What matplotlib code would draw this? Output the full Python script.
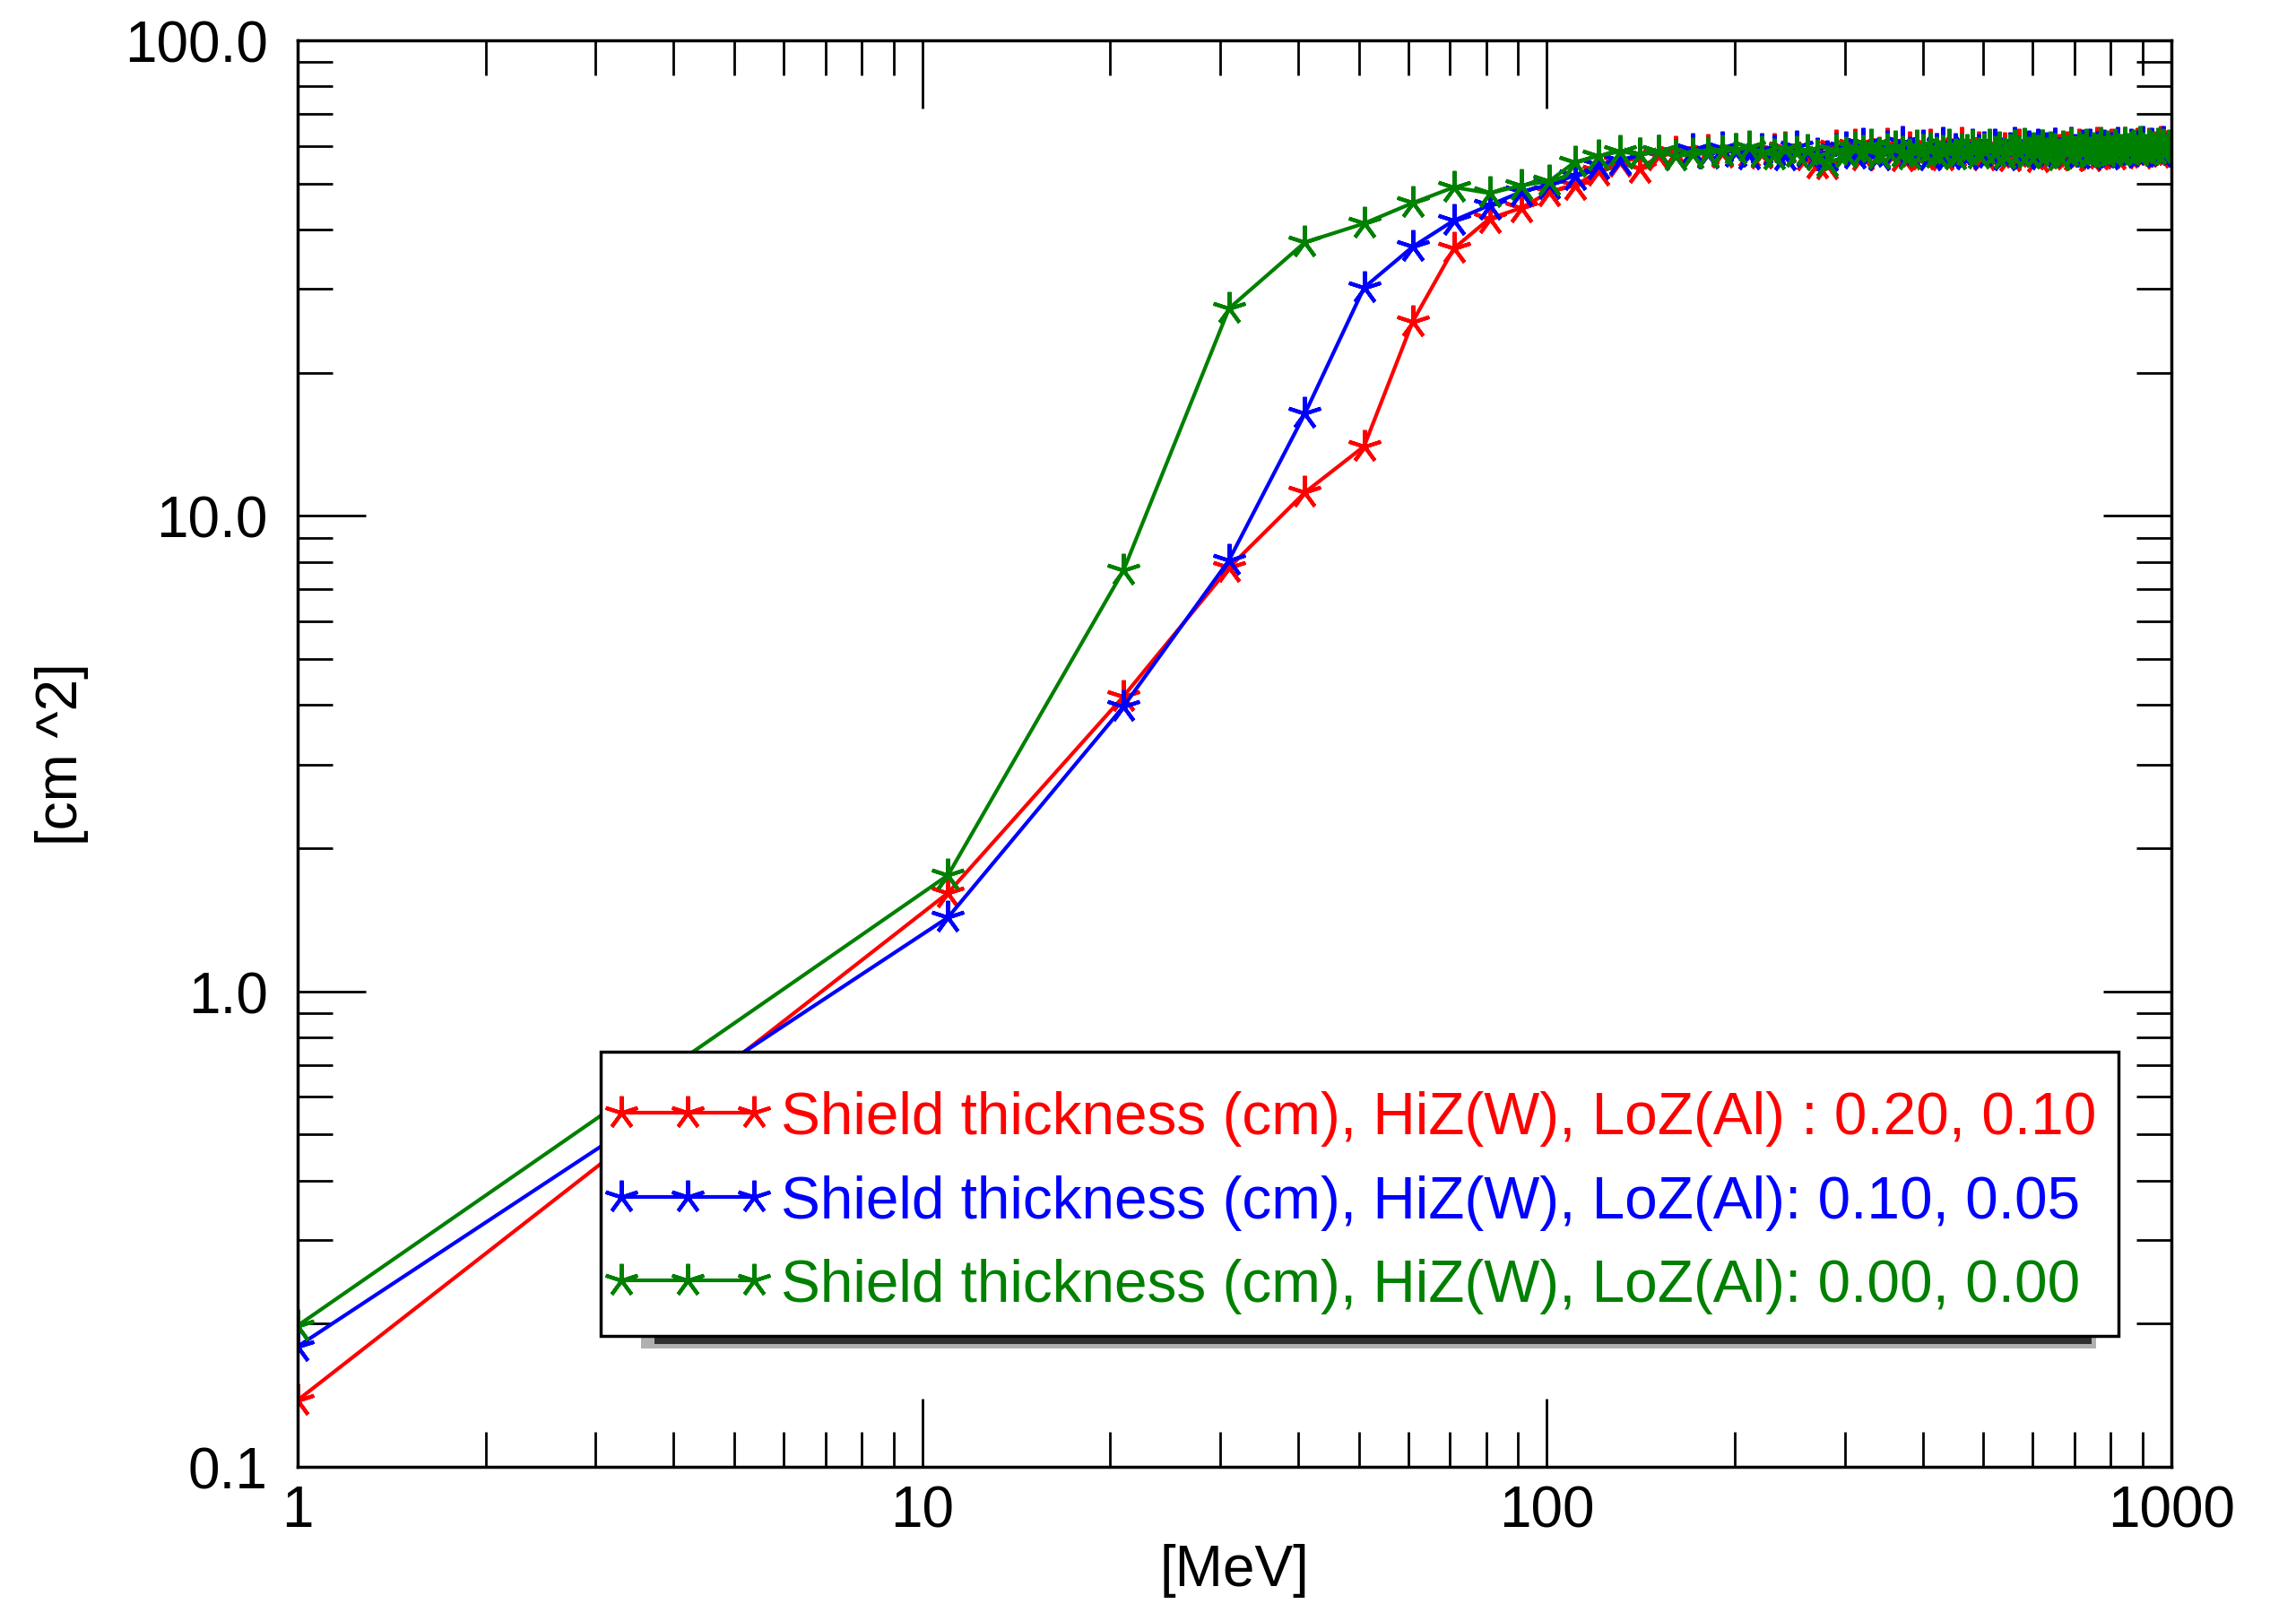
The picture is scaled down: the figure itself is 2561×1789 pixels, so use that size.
import matplotlib
matplotlib.use("Agg")
import matplotlib.pyplot as plt
from matplotlib.ticker import FixedLocator, FixedFormatter, LogLocator, NullFormatter
from matplotlib.patches import Rectangle

plt.rcParams['font.family'] = ['Liberation Sans', 'DejaVu Sans']

# ---------------- data ----------------
energy_mev = list(range(1, 1000, 10))  # 1, 11, 21, ... 991 MeV

area_w020_al010 = [
    0.138, 1.61, 4.17, 7.78, 11.2, 14.0, 25.6, 36.5, 42.2, 44.4,
    48.0, 49.5, 53.0, 55.5, 53.8, 57.0, 58.0, 57.5, 58.5, 57.8,
    59.0, 58.2, 57.6, 58.8, 59.5, 58.0, 57.2, 55.0, 54.6, 59.8,
    58.4, 60.2, 57.1, 59.0, 57.8, 60.5, 58.1, 56.9, 59.3, 58.6,
    57.4, 60.1, 58.8, 57.2, 59.6, 58.0, 60.7, 57.6, 58.9, 59.4,
    57.0, 58.3, 60.0, 57.9, 59.1, 56.8, 58.7, 60.3, 57.5, 59.2,
    58.1, 56.6, 59.8, 58.4, 57.3, 60.4, 58.6, 57.8, 59.5, 58.0,
    57.1, 60.2, 58.5, 59.3, 56.9, 58.8, 60.6, 57.7, 59.0, 58.2,
    60.1, 57.4, 59.6, 58.3, 60.8, 57.9, 59.2, 58.6, 60.4, 57.6,
    59.9, 58.1, 60.5, 58.7, 59.4, 57.8, 60.9, 58.5, 59.7, 58.9,
]

area_w010_al005 = [
    0.179, 1.43, 3.97, 8.07, 16.4, 30.2, 36.8, 41.8, 45.0, 48.0,
    49.7, 52.0, 54.7, 55.9, 57.5, 58.3, 57.2, 58.8, 57.6, 59.4,
    58.1, 57.3, 59.0, 58.4, 57.0, 59.6, 58.2, 57.7, 56.8, 58.9,
    59.3, 57.6, 60.4, 58.0, 57.2, 59.7, 58.5, 60.9, 57.8, 58.6,
    59.8, 57.1, 58.9, 60.6, 57.5, 59.0, 58.2, 57.4, 60.3, 58.7,
    59.5, 57.9, 60.1, 58.3, 57.0, 59.2, 60.8, 58.1, 57.6, 59.6,
    58.8, 60.2, 57.3, 59.1, 58.4, 60.5, 57.7, 59.4, 58.0, 60.7,
    58.6, 57.5, 59.9, 58.2, 60.3, 57.9, 59.3, 58.7, 60.0, 57.4,
    59.1, 58.5, 60.6, 57.8, 59.5, 58.3, 60.2, 58.8, 59.7, 58.0,
    60.9, 58.4, 59.2, 60.4, 58.6, 59.8, 58.2, 61.0, 59.0, 59.6,
]

area_w000_al000 = [
    0.198, 1.755, 7.67, 27.3, 37.6, 41.2, 45.5, 49.1, 47.7, 49.5,
    50.6, 55.5, 57.1, 58.4, 57.5, 58.4, 57.1, 57.5, 57.9, 58.4,
    58.9, 59.6, 58.2, 57.4, 59.1, 58.0, 58.7, 57.0, 55.3, 58.5,
    57.8, 59.5, 58.3, 60.1, 57.6, 58.9, 59.7, 58.1, 57.4, 60.0,
    58.6, 59.2, 57.9, 58.4, 60.2, 57.3, 59.0, 58.5, 59.8, 57.7,
    58.8, 60.3, 58.0, 59.4, 57.5, 58.7, 59.9, 58.2, 60.5, 57.8,
    59.1, 58.4, 60.0, 57.6, 59.3, 58.9, 57.2, 59.6, 58.3, 60.4,
    58.0, 59.5, 58.7, 60.1, 57.9, 59.2, 58.6, 60.6, 58.1, 59.7,
    58.4, 60.2, 59.0, 58.5, 60.7, 58.8, 59.4, 60.0, 58.3, 60.9,
    59.1, 58.6, 60.3, 59.5, 58.9, 60.5, 59.2, 60.1, 58.7, 59.8,
]

series_labels = [
    "Shield thickness (cm), HiZ(W), LoZ(Al) : 0.20, 0.10",
    "Shield thickness (cm), HiZ(W), LoZ(Al): 0.10, 0.05",
    "Shield thickness (cm), HiZ(W), LoZ(Al): 0.00, 0.00",
]
series_colors = ["#ff0000", "#0000ff", "#008000"]

x_ticks = [1, 10, 100, 1000]
x_tick_labels = ["1", "10", "100", "1000"]
y_ticks = [0.1, 1.0, 10.0, 100.0]
y_tick_labels = ["0.1", "1.0", "10.0", "100.0"]

# ---------------- figure ----------------
DPI = 100
fig = plt.figure(figsize=(25.61, 17.90), dpi=DPI)
ax = fig.add_axes([0.1296, 0.0855, 0.8161, 0.8888])

star = (5, 2, 0)
for ys, lab, col in zip([area_w020_al010, area_w010_al005, area_w000_al000],
                        series_labels, series_colors):
    ax.plot(energy_mev, ys, color=col, lw=3.0, marker=star, ms=27, mew=3.0,
            label=lab)

ax.set_xscale('log')
ax.set_yscale('log')
ax.set_xlim(1, 1000)
ax.set_ylim(0.1, 100)

ax.xaxis.set_major_locator(FixedLocator(x_ticks))
ax.xaxis.set_major_formatter(FixedFormatter(x_tick_labels))
ax.yaxis.set_major_locator(FixedLocator(y_ticks))
ax.yaxis.set_major_formatter(FixedFormatter(y_tick_labels))
ax.xaxis.set_minor_locator(LogLocator(base=10, subs=range(2, 10)))
ax.yaxis.set_minor_locator(LogLocator(base=10, subs=range(2, 10)))
ax.xaxis.set_minor_formatter(NullFormatter())
ax.yaxis.set_minor_formatter(NullFormatter())

ax.tick_params(which='both', direction='in', top=True, right=True, width=2.0,
               color='black', labelsize=46)
ax.tick_params(which='major', length=55)
ax.tick_params(which='minor', length=28)
ax.tick_params(axis='x', which='major', pad=14)
ax.tick_params(axis='y', which='major', pad=24)
for sp in ax.spines.values():
    sp.set_linewidth(2.5)

ax.set_xlabel("[MeV]", fontsize=46, va='center')
ax.xaxis.set_label_coords(0.5, -0.0723)
ax.set_ylabel("[cm ^2]", fontsize=46, va='center')
ax.yaxis.set_label_coords(-0.1258, 0.5)

# legend box (frame + shadow drawn as patches in axes coordinates)
box_x0, box_x1 = 0.1617, 0.9718
box_y0, box_y1 = 0.0918, 0.291
to_ax = ax.transAxes
px_x = 1.0 / (0.8161 * 25.61 * DPI)
px_y = 1.0 / (0.8888 * 17.90 * DPI)
shadow_soft = Rectangle((box_x0 + 45 * px_x, box_y0 - 14 * px_y),
                        (box_x1 - box_x0) - 70 * px_x, 24 * px_y,
                        transform=to_ax, facecolor='#b0b0b0', edgecolor='none',
                        zorder=4.6, clip_on=False)
shadow_dark = Rectangle((box_x0 + 60 * px_x, box_y0 - 9 * px_y),
                        (box_x1 - box_x0) - 90 * px_x, 14 * px_y,
                        transform=to_ax, facecolor='#303030', edgecolor='none',
                        zorder=4.7, clip_on=False)
frame = Rectangle((box_x0, box_y0), box_x1 - box_x0, box_y1 - box_y0,
                  transform=to_ax, facecolor='white', edgecolor='black',
                  linewidth=2.5, zorder=4.8, clip_on=False)
for p in (shadow_soft, shadow_dark, frame):
    ax.add_patch(p)

leg = ax.legend(loc='center left', bbox_to_anchor=(0.1632, 0.1855),
                borderaxespad=0, borderpad=0, numpoints=3, fontsize=47.3,
                frameon=False, handlelength=2.85, handletextpad=0.17,
                labelspacing=0.48)
for txt, col in zip(leg.get_texts(), series_colors):
    txt.set_color(col)
leg.set_zorder(6)

fig.savefig("out.png", dpi=DPI)
